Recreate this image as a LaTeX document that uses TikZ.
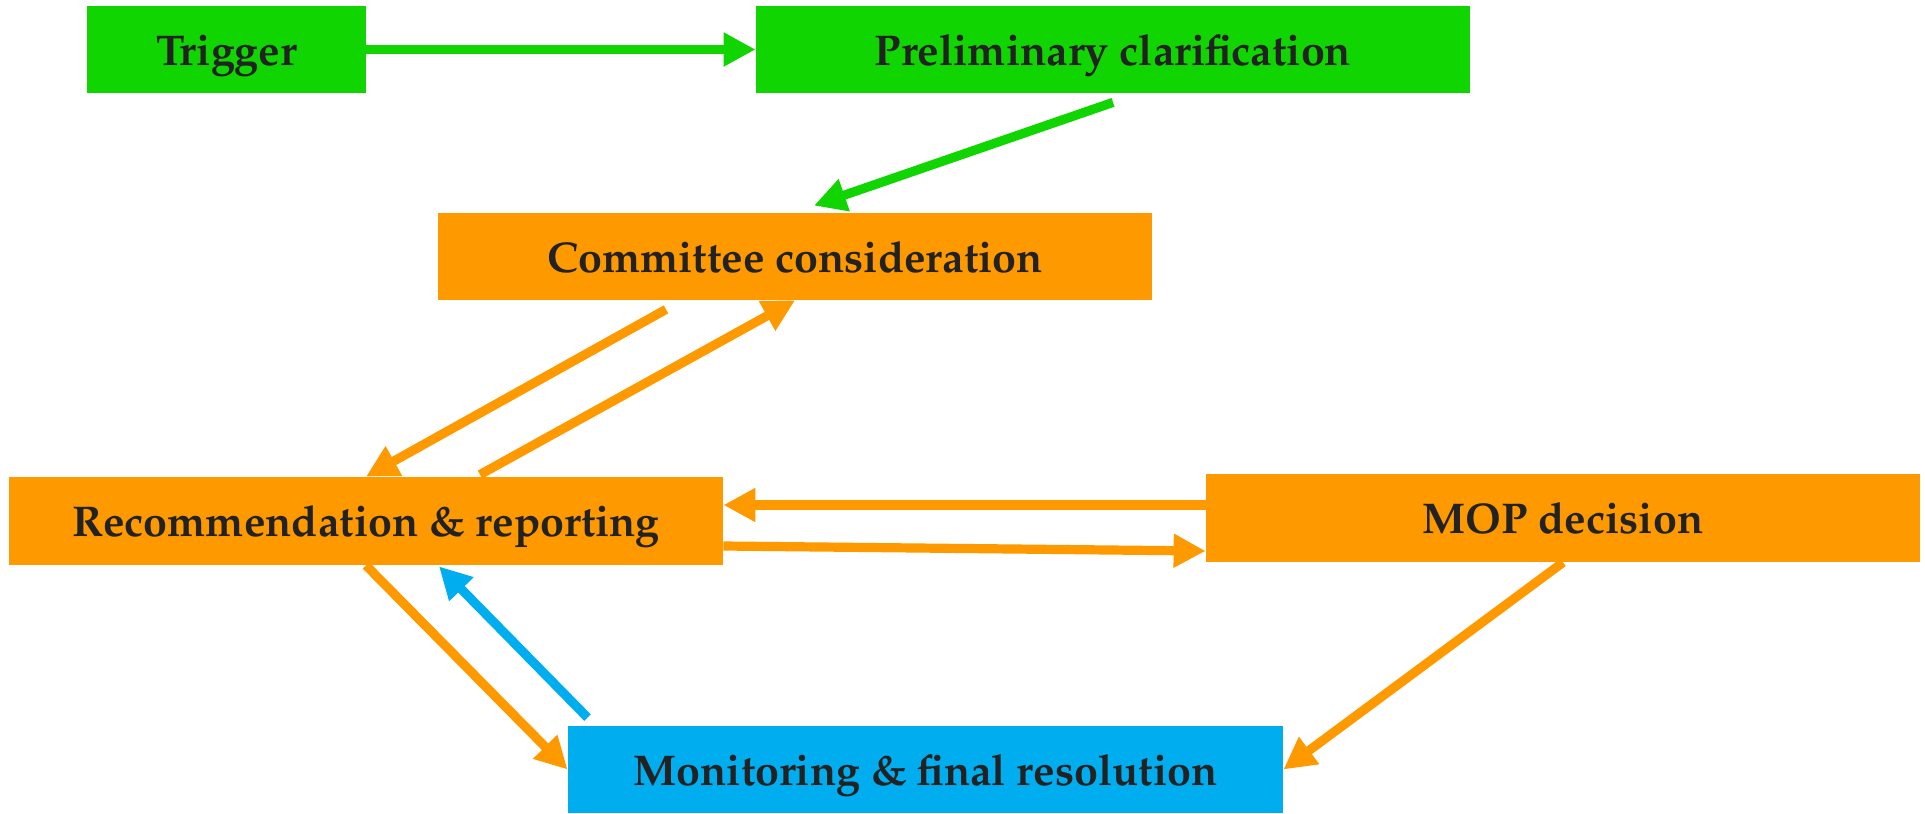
\documentclass[tikz,border=0pt]{standalone}
\usepackage[T1]{fontenc}
\usepackage{mathpazo}
\usetikzlibrary{arrows.meta,calc}
\definecolor{cgreen}{RGB}{17,213,0}
\definecolor{corange}{RGB}{255,153,0}
\definecolor{cblue}{RGB}{0,174,239}
\definecolor{ctext}{RGB}{34,34,34}
\tikzset{
  box/.style={rectangle, inner sep=0pt, minimum height=43.5pt, minimum width=357pt,
    text height=20pt, text depth=4.2pt,
    text=ctext, font=\fontsize{21.5}{24}\selectfont\bfseries},
  greenbox/.style={box, fill=cgreen},
  orangebox/.style={box, fill=corange},
  bluebox/.style={box, fill=cblue},
  conn/.style={line width=4.6pt, -{Triangle[length=16pt,width=16pt]}},
}
\begin{document}
\begin{tikzpicture}[x=0.5pt,y=-0.5pt]
\useasboundingbox (0,0) rectangle (1925,813);
\node[greenbox, minimum width=139.5pt] (trig) at (226.5,49.5) {Trigger};
\node[greenbox] (prelim) at (1113,49.5) {Preliminary clarification};
\node[orangebox] (comm) at (795,256.5) {Committee consideration};
\node[orangebox, minimum height=44pt] (rec) at (366,521) {Recommendation \& reporting};
\node[orangebox, minimum height=44pt] (mop) at (1563,518) {MOP decision};
\node[bluebox, minimum width=357.5pt] (mon) at (925.5,769.5) {Monitoring \& final resolution};

\draw[conn, cgreen] (trig.east) -- (prelim.west);
\draw[conn, cgreen] ($(prelim.south)+(0,9)$) -- ($(comm.north)+(19,-7)$);
\draw[conn, corange] ($(comm.south)+(-129,9)$) -- (rec.north);
\draw[conn, corange] ($(rec.north)+(114,-2)$) -- (comm.south);
\draw[conn, corange] ($(mop.west)+(0,-13)$) -- ($(rec.east)+(0,-16)$);
\draw[conn, corange] ($(rec.east)+(0,25)$) -- ($(mop.west)+(0,33)$);
\draw[conn, corange] (rec.south) -- (mon.west);
\draw[conn, cblue] ($(mon.north)+(-338,-8)$) -- ($(rec.south)+(73,1)$);
\draw[conn, corange] (mop.south) -- (mon.east);
\end{tikzpicture}
\end{document}
